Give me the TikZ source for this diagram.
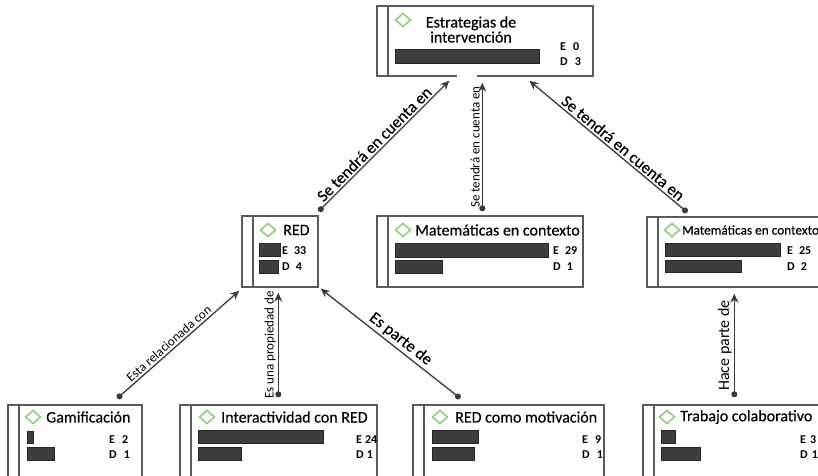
\documentclass[tikz,border=0pt]{standalone}
\usepackage{fontspec}
\setmainfont{Carlito}
\newfontfamily\semib{Carlito}[FakeBold=0.35]
\usetikzlibrary{arrows.meta,fit}
\definecolor{boxgray}{HTML}{5A5A5A}
\definecolor{bargray}{HTML}{3D3D3D}
\definecolor{bardark}{HTML}{262626}
\definecolor{diagreen}{HTML}{8FD07F}
\definecolor{linegray}{HTML}{3A3A3A}
\newcommand\cdia[2]{\draw[dia] (#1-7.5,#2) -- (#1,#2-6.5) -- (#1+7.5,#2) -- (#1,#2+6.5) -- cycle;}
\newcommand\cpanel[5]{%
  \node[cbox, fit={(#2,#3) (#4,#5)}] (#1) {};
  \draw[stripe] ([xshift=11.5pt]#1.north west) -- ([xshift=11.5pt]#1.south west);}
\begin{document}
\begin{tikzpicture}[x=1pt,y=-1pt,
  cbox/.style={draw=boxgray, line width=1.4pt, inner sep=0pt, fill=white},
  stripe/.style={draw=boxgray, line width=1.4pt},
  bar/.style={fill=bargray, draw=bardark, line width=0.6pt},
  dia/.style={draw=diagreen, line width=1.6pt, fill=white},
  ttl/.style={anchor=west, inner sep=0pt, font=\semib\fontsize{16}{18}\selectfont},
  cnt/.style={anchor=west, inner sep=0pt, font=\fontsize{12}{13}\selectfont\bfseries},
  link/.style={draw=linegray, line width=1.3pt, {Circle[length=6pt]}-{Stealth[length=9pt,width=8pt]}},
  biglbl/.style={font=\semib\fontsize{16.5}{18}\selectfont, sloped, above, inner sep=2pt},
  smalllbl/.style={font=\fontsize{13}{15}\selectfont, sloped, above, inner sep=2pt},
]
\useasboundingbox (0,0) rectangle (818,475);
\clip (0,0) rectangle (818,475);

% ---------- Estrategias de intervención
\cpanel{estr}{377}{6}{593}{76}
\draw[white, line width=2.5pt] (457,76) -- (477,76);
\cdia{403}{20}
\node[inner sep=0pt, align=center, font=\semib\fontsize{16}{15}\selectfont] (estrT) at (471,29.5) {Estrategias de\\intervención};
\fill[bar] (395,49) rectangle (539,63);
\node[cnt] (estrE) at (560,47) {E\hspace{7pt}0};
\node[cnt] (estrD) at (560,62) {D\hspace{7pt}3};

% ---------- RED
\cpanel{red}{242}{216}{318}{287}
\cdia{268}{230}
\node[ttl] (redT) at (283,230) {RED};
\fill[bar] (259,243) rectangle (280,256);
\fill[bar] (259,260) rectangle (278,273);
\node[cnt] (redE) at (282,251) {E\hspace{6pt}33};
\node[cnt] (redD) at (282,267) {D\hspace{6pt}4};

% ---------- Matemáticas en contexto (centro)
\cpanel{matA}{377}{216}{583}{287}
\cdia{403}{230}
\node[ttl] (matAT) at (415,230) {Matemáticas en contexto};
\fill[bar] (395,243) rectangle (548,257);
\fill[bar] (395,260) rectangle (442,273);
\node[cnt] (matAE) at (553,251) {E\hspace{6pt}29};
\node[cnt] (matAD) at (553,267) {D\hspace{6pt}1};

% ---------- Matemáticas en contexto (derecha)
\cpanel{matB}{647}{217}{840}{287}
\cdia{672}{230}
\node[ttl, font=\semib\fontsize{13.3}{15}\selectfont] (matBT) at (682,230) {Matemáticas en contexto};
\fill[bar] (665,243) rectangle (780,256);
\fill[bar] (665,260) rectangle (741,272);
\node[cnt] (matBE) at (787,251) {E\hspace{6pt}25};
\node[cnt] (matBD) at (787,267) {D\hspace{6pt}2};

% ---------- Gamificación
\cpanel{gam}{8}{405}{142}{485}
\cdia{33}{417}
\node[ttl] (gamT) at (46,417) {Gamificación};
\fill[bar] (27,431) rectangle (33,443);
\fill[bar] (27,447) rectangle (54,460);
\node[cnt] (gamE) at (109,440) {E\hspace{7pt}2};
\node[cnt] (gamD) at (109,455) {D\hspace{7pt}1};

% ---------- Interactividad con RED
\cpanel{inter}{180}{405}{377}{485}
\cdia{207}{417}
\node[ttl] (interT) at (221,417) {Interactividad con RED};
\fill[bar] (198,430) rectangle (323,443);
\fill[bar] (198,447) rectangle (241,460);
\node[cnt] (interE) at (356,440) {E\hspace{3pt}24};
\node[cnt] (interD) at (356,455) {D\hspace{3pt}1};

% ---------- RED como motivación
\cpanel{mot}{413}{405}{604}{485}
\cdia{440}{417}
\node[ttl] (motT) at (455,417) {RED como motivación};
\fill[bar] (432,430) rectangle (478,443);
\fill[bar] (432,447) rectangle (474,460);
\node[cnt] (motE) at (582,440) {E\hspace{7pt}9};
\node[cnt] (motD) at (582,455) {D\hspace{7pt}1};

% ---------- Trabajo colaborativo
\cpanel{trab}{643}{405}{840}{485}
\cdia{667}{417}
\node[ttl] (trabT) at (680,417) {Trabajo colaborativo};
\fill[bar] (661,430) rectangle (675,443);
\fill[bar] (661,447) rectangle (700,460);
\node[cnt] (trabE) at (800,440) {E\hspace{4pt}3};
\node[cnt] (trabD) at (800,455) {D\hspace{4pt}1};

% ---------- connectors
\draw[link] ([yshift=4pt]red.north east) -- node[biglbl, pos=0.47] {Se tendrá en cuenta en} ([xshift=73pt,yshift=-4pt]estr.south west);
\draw[link] ([xshift=106pt,yshift=4pt]matA.north west) -- node[smalllbl, pos=0.5] {Se tendrá en cuenta en} ([xshift=106pt,yshift=-6pt]estr.south west);
\draw[link] ([xshift=41pt,yshift=4pt]matB.north west) -- node[biglbl, pos=0.44] {Se tendrá en cuenta en} ([xshift=153pt,yshift=-4pt]estr.south west);
\draw[link] ([xshift=110pt,yshift=6pt]gam.north west) -- node[smalllbl, pos=0.46] {Esta relacionada con} ([xshift=-2pt,yshift=-3pt]red.south west);
\draw[link] ([xshift=99pt,yshift=7pt]inter.north west) -- node[smalllbl, pos=0.5] {Es una propiedad de} ([xshift=37pt,yshift=-5pt]red.south west);
\draw[link] ([xshift=48pt,yshift=6pt]mot.north west) -- node[biglbl, pos=0.47] {Es parte de} ([xshift=2pt,yshift=-1pt]red.south east);
\draw[link] ([xshift=92pt,yshift=7pt]trab.north west) -- node[biglbl, font=\fontsize{16}{18}\selectfont, pos=0.5] {Hace parte de} ([xshift=88pt,yshift=-6pt]matB.south west);
\end{tikzpicture}
\end{document}
